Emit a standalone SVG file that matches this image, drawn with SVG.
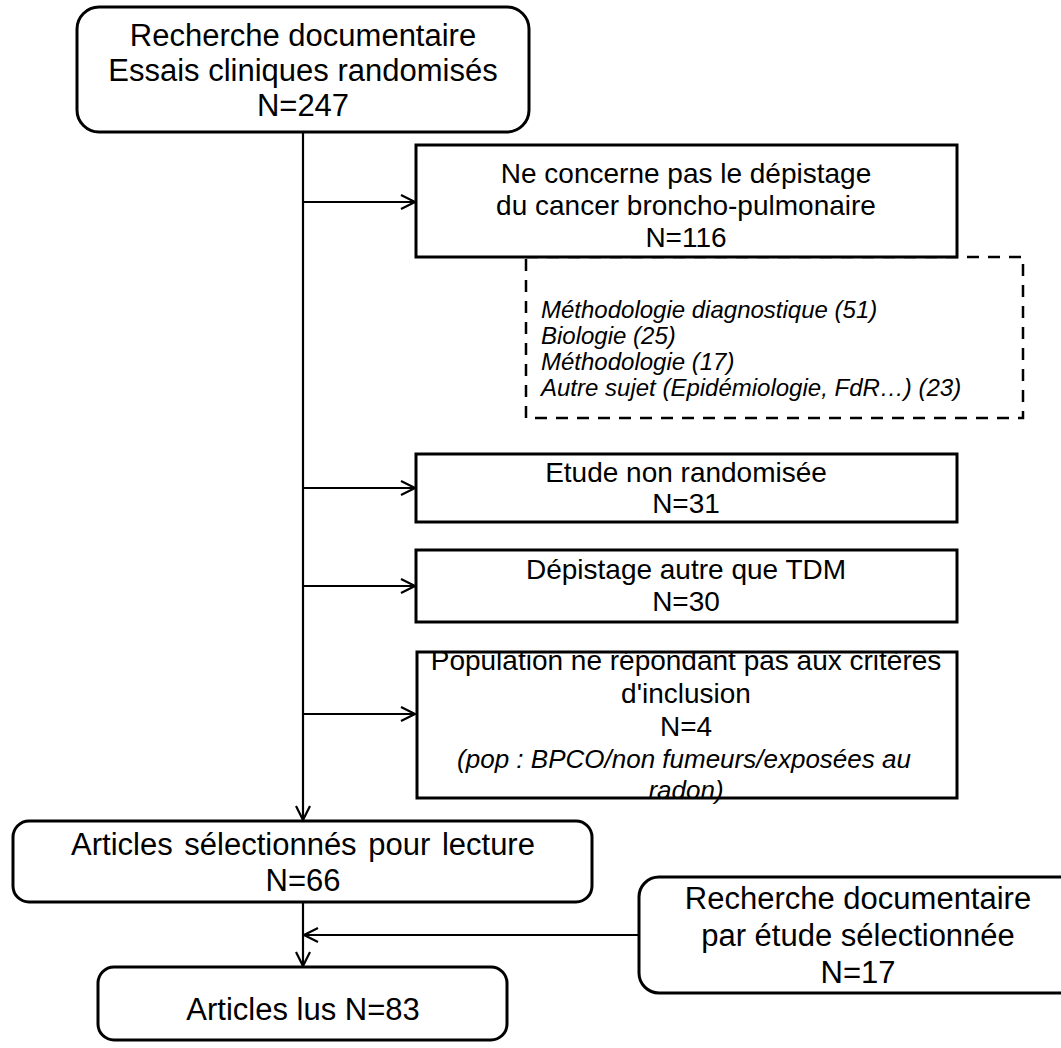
<svg xmlns="http://www.w3.org/2000/svg" width="1061" height="1048" viewBox="0 0 1061 1048">
<style>
.box{fill:#fff;stroke:#000;stroke-width:3}
.dash{fill:#fff;stroke:#000;stroke-width:2.5;stroke-dasharray:12 9}
.ln{fill:none;stroke:#000;stroke-width:2.2}
.t{font-family:"Liberation Sans",Arial,sans-serif;fill:#000;text-anchor:middle}
.r{font-size:31px}
.s{font-size:28px}
.it{font-style:italic;font-size:26px}
.i{font-family:"Liberation Sans",Arial,sans-serif;font-style:italic;font-size:24px;fill:#000}
</style>
<defs>
<marker id="ah" viewBox="0 0 16 16" refX="15" refY="8" markerWidth="16" markerHeight="16" markerUnits="userSpaceOnUse" orient="auto">
<path d="M1,1 L15,8 L1,15" fill="none" stroke="#000" stroke-width="2.2"/>
</marker>
<clipPath id="popclip"><rect x="417" y="652" width="540" height="200"/></clipPath>
</defs>
<g id="connectors">
<line class="ln" x1="303" y1="132" x2="303" y2="820" marker-end="url(#ah)"/>
<line class="ln" x1="303" y1="202" x2="415" y2="202" marker-end="url(#ah)"/>
<line class="ln" x1="303" y1="488" x2="415" y2="488" marker-end="url(#ah)"/>
<line class="ln" x1="303" y1="586" x2="415" y2="586" marker-end="url(#ah)"/>
<line class="ln" x1="303" y1="714" x2="415" y2="714" marker-end="url(#ah)"/>
<line class="ln" x1="303" y1="902" x2="303" y2="966" marker-end="url(#ah)"/>
<line class="ln" x1="639" y1="935" x2="304" y2="935" marker-end="url(#ah)"/>
</g>
<g id="node-start">
<rect class="box" x="77" y="7" width="452" height="125" rx="22"/>
<text class="t r" x="303" y="46">Recherche documentaire</text>
<text class="t r" x="303" y="81">Essais cliniques randomisés</text>
<text class="t r" x="303" y="116">N=247</text>
</g>
<g id="node-details">
<rect class="dash" x="526" y="257" width="497" height="161"/>
<text class="i" x="541" y="318">Méthodologie diagnostique (51)</text>
<text class="i" x="541" y="344">Biologie (25)</text>
<text class="i" x="541" y="370">Méthodologie (17)</text>
<text class="i" x="541" y="396">Autre sujet (Epidémiologie, FdR…) (23)</text>
</g>
<g id="node-hors-sujet">
<rect class="box" x="416" y="145" width="541" height="112"/>
<text class="t s" x="686" y="183">Ne concerne pas le dépistage</text>
<text class="t s" x="686" y="215">du cancer broncho-pulmonaire</text>
<text class="t s" x="686" y="247">N=116</text>
</g>
<g id="node-non-rando">
<rect class="box" x="416" y="454" width="541" height="68"/>
<text class="t s" x="686" y="482">Etude non randomisée</text>
<text class="t s" x="686" y="513">N=31</text>
</g>
<g id="node-tdm">
<rect class="box" x="416" y="550" width="541" height="72"/>
<text class="t s" x="686" y="579">Dépistage autre que TDM</text>
<text class="t s" x="686" y="611">N=30</text>
</g>
<g id="node-population">
<rect class="box" x="417" y="652" width="540" height="146"/>
<g clip-path="url(#popclip)">
<text class="t s" x="686" y="670">Population ne répondant pas aux critères</text>
</g>
<text class="t s" x="686" y="703">d'inclusion</text>
<text class="t s" x="686" y="736">N=4</text>
<text class="t it" x="684" y="768">(pop : BPCO/non fumeurs/exposées au</text>
<text class="t it" x="686" y="799">radon)</text>
</g>
<g id="node-selection">
<rect class="box" x="13" y="821" width="579" height="81" rx="16"/>
<text class="t r" x="303" y="855" word-spacing="3">Articles sélectionnés pour lecture</text>
<text class="t r" x="303" y="891">N=66</text>
</g>
<g id="node-recherche2">
<rect class="box" x="639" y="877" width="440" height="116" rx="20"/>
<text class="t r" x="858" y="909">Recherche documentaire</text>
<text class="t r" x="858" y="946">par étude sélectionnée</text>
<text class="t r" x="858" y="983">N=17</text>
</g>
<g id="node-lus">
<rect class="box" x="98" y="967" width="409" height="73" rx="16"/>
<text class="t r" x="303" y="1020">Articles lus N=83</text>
</g>
</svg>
